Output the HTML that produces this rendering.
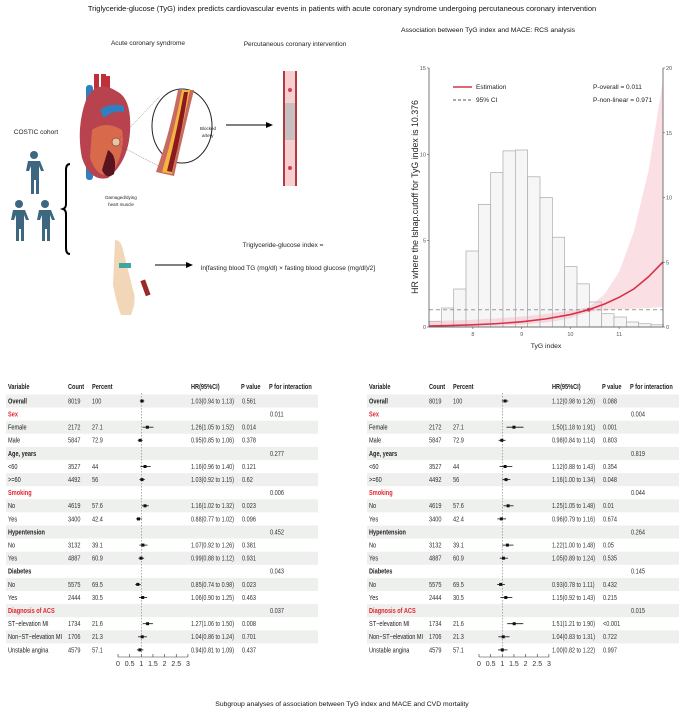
<!DOCTYPE html>
<html><head><meta charset="utf-8"><style>
html,body{margin:0;padding:0;background:#fff;}
svg{display:block;font-family:"Liberation Sans",Arial,sans-serif;}
</style></head><body>
<svg id="fig" width="685" height="712" viewBox="0 0 685 712">
<text x="342" y="11" font-size="7.5" text-anchor="middle" fill="#111">Triglyceride-glucose (TyG) index predicts cardiovascular events in patients with acute coronary syndrome undergoing percutaneous coronary intervention</text>

<g font-size="6.5" fill="#222">
<text x="148" y="45" text-anchor="middle">Acute coronary syndrome</text>
<text x="295" y="46" text-anchor="middle">Percutaneous coronary intervention</text>
<text x="36" y="134" text-anchor="middle">COSTIC cohort</text>
<g fill="#3d6680">
<circle cx="34" cy="155" r="4"/><path d="M28 161h12l4 10h-3l-2-5v28h-3v-14h-2v14h-3v-28l-2 5h-3z"/>
<circle cx="19" cy="204" r="4"/><path d="M13 210h12l4 10h-3l-2-5v26h-3v-12h-2v12h-3v-26l-2 5h-3z"/>
<circle cx="45" cy="204" r="4"/><path d="M39 210h12l4 10h-3l-2-5v26h-3v-12h-2v12h-3v-26l-2 5h-3z"/>
</g>
<path d="M70 164q-4 0-4 6v34q0 4-3 5q3 1 3 5v34q0 6 4 6" fill="none" stroke="#000" stroke-width="2"/>
<g>
<rect x="86" y="85" width="7" height="95" rx="3" fill="#2f7fc1"/>
<rect x="94" y="74" width="5" height="25" fill="#c0303a"/><rect x="101" y="74" width="5" height="22" fill="#c0303a"/><rect x="106" y="76" width="4" height="20" fill="#c0303a"/>
<path d="M86 100q10-22 32-8q14 8 12 40q-2 30-22 46q-18 4-26-20q-6-30 4-58z" fill="#b8434f"/>
<path d="M92 130q14-10 30 0q4 20-10 44q-14 6-22-16z" fill="#d8694a"/>
<path d="M108 150q10 6 6 24q-8 6-12-4z" fill="#5a1420"/>
<path d="M100 110q10-8 24-4l0 6q-12-2-20 6z" fill="#2f7fc1"/>
<circle cx="116" cy="142" r="4" fill="#f0c0a0" stroke="#333" stroke-width="0.5"/>
</g>
<text x="121" y="199" font-size="4.5" text-anchor="middle">Damaged/dying</text>
<text x="121" y="206" font-size="4.5" text-anchor="middle">heart muscle</text>
<line x1="120" y1="138" x2="160" y2="96" stroke="#555" stroke-width="0.5" stroke-dasharray="1,1"/>
<line x1="120" y1="146" x2="170" y2="172" stroke="#555" stroke-width="0.5" stroke-dasharray="1,1"/>
<g>
<ellipse cx="182" cy="126" rx="30" ry="37" fill="#fff" stroke="#222" stroke-width="1"/>
<path d="M178 90l16 0q-10 40-20 86l-18-4q14-40 22-82z" fill="#c86a60"/>
<path d="M182 90l8 0q-8 40-18 84l-10-2q12-40 20-82z" fill="#f3b53c"/>
<path d="M184 92l4 0q-6 40-16 80l-5-1q10-40 17-79z" fill="#8a1a22"/>
<text x="200" y="130" font-size="4.5">Blocked</text><text x="202" y="137" font-size="4.5">artery</text>
</g>
<line x1="226" y1="125" x2="266" y2="125" stroke="#000" stroke-width="1"/><path d="M266 122l7 3l-7 3z" fill="#000"/>
<g>
<rect x="283" y="71" width="14" height="115" fill="#f6d0d0"/>
<rect x="283" y="71" width="2" height="115" fill="#b33a40"/><rect x="295" y="71" width="2" height="115" fill="#b33a40"/>
<rect x="285" y="103" width="10" height="37" fill="#bbb" opacity="0.8"/>
<circle cx="290" cy="90" r="2" fill="#d04050"/><circle cx="290" cy="168" r="2" fill="#d04050"/>
</g>
<g>
<path d="M115 240q6 0 8 10l10 40q4 10 -2 25h-10q-4-10-8-30z" fill="#f2d6b8"/>
<rect x="119" y="263" width="12" height="5" fill="#3aa8a0"/>
<rect x="143" y="280" width="5" height="16" fill="#9a2a2a" transform="rotate(-20 145 288)"/>
</g>
<line x1="155" y1="265" x2="186" y2="265" stroke="#000" stroke-width="1"/><path d="M186 262l7 3l-7 3z" fill="#000"/>
<text x="283" y="247" text-anchor="middle">Triglyceride-glucose index =</text>
<text x="288" y="270" text-anchor="middle">ln[fasting blood TG (mg/dl) × fasting blood glucose (mg/dl)/2]</text>
</g>

<text x="488" y="32" font-size="6.8" text-anchor="middle" fill="#111">Association between TyG index and MACE: RCS analysis</text>
<g id="rcs"></g>

<g id="forestL"></g>
<g id="forestR"></g>
<text x="342" y="706" font-size="6.8" text-anchor="middle" fill="#111">Subgroup analyses of association between TyG index and MACE and CVD mortality</text>
</svg>
<script>
var NS='http://www.w3.org/2000/svg';
function mk(parent,tag,attrs,text){var e=document.createElementNS(NS,tag);for(var k in attrs)e.setAttribute(k,attrs[k]);if(text!==undefined)e.textContent=text;parent.appendChild(e);return e;}
// condensed text helper
function ct(parent,x,y,str,attrs,sc){var a={x:0,y:0,transform:'translate('+x+','+y+') scale('+(sc||0.84)+',1)'};for(var k in attrs)a[k]=attrs[k];return mk(parent,'text',a,str);}

var histStart=7.1, binWidth=0.253;
var histCounts=[0.33,1.1,2.2,4.4,7.1,8.95,10.2,10.25,8.7,7.5,5.2,3.5,2.5,1.45,0.77,0.58,0.29,0.19,0.13];
var curveX=[7.1,7.5,8,8.5,9,9.5,10,10.376,10.7,11,11.3,11.6,11.9];
var curveEst=[0.058,0.082,0.126,0.195,0.30,0.47,0.72,1.0,1.33,1.72,2.2,2.9,3.77];
var curveHi=[0.35,0.38,0.42,0.5,0.6,0.75,0.95,1.15,1.9,3.2,5.5,9,14.3];
var curveLo=[0.01,0.02,0.04,0.08,0.14,0.25,0.5,0.88,0.97,1.02,1.06,1.1,1.15];
var xTicks=[8,9,10,11];
var yTicksL=[0,5,10,15];
var yTicksR=[0,5,10,15,20];

(function(){
 var g=document.getElementById('rcs');
 var X0=429,X1=663,Y0=327,Y1=68,xmin=7.1,xmax=11.9;
 function sx(v){return X0+(v-xmin)/(xmax-xmin)*(X1-X0);}
 function sy(v){return Y0-v/15*(Y0-Y1);}
 function syR(v){return Y0-v/20*(Y0-Y1);}
 for(var i=0;i<histCounts.length;i++){
  var a=histStart+i*binWidth;
  var r=mk(g,'rect',{x:sx(a),y:sy(histCounts[i]),width:sx(a+binWidth)-sx(a),height:Y0-sy(histCounts[i]),fill:'#f6f6f7',stroke:'#aaa','stroke-width':0.7});
  
  
 }
 var d='';
 for(i=0;i<curveX.length;i++)d+=(i?'L':'M')+sx(curveX[i])+' '+sy(curveHi[i]);
 for(i=curveX.length-1;i>=0;i--)d+='L'+sx(curveX[i])+' '+sy(curveLo[i]);
 var band=mk(g,'path',{d:d+'Z',fill:'#f2a7b3','fill-opacity':0.35});
 
 
 var ref=mk(g,'line',{x1:X0,x2:X1,y1:sy(1),y2:sy(1),stroke:'#999','stroke-width':1,'stroke-dasharray':'4,3'});
 
 
 d='';
 for(i=0;i<curveX.length;i++)d+=(i?'L':'M')+sx(curveX[i])+' '+sy(curveEst[i]);
 var ln=mk(g,'path',{d:d,fill:'none',stroke:'#d9304a','stroke-width':1.6});
 
 
 var cut=mk(g,'circle',{cx:sx(10.376),cy:sy(1),r:1.8,fill:'#d9304a'});
 
 
 mk(g,'line',{x1:X0,x2:X0,y1:Y1,y2:Y0,stroke:'#555','stroke-width':0.8});
 mk(g,'line',{x1:X1,x2:X1,y1:Y1,y2:Y0,stroke:'#555','stroke-width':0.8});
 mk(g,'line',{x1:X0,x2:X1,y1:Y0,y2:Y0,stroke:'#555','stroke-width':0.8});
 yTicksL.forEach(function(t){mk(g,'line',{x1:X0-2,x2:X0,y1:sy(t),y2:sy(t),stroke:'#555','stroke-width':0.6});
  var tx=mk(g,'text',{x:X0-3,y:sy(t)+2,'font-size':5.5,'text-anchor':'end',fill:'#555'},t);
  });
 yTicksR.forEach(function(t){mk(g,'line',{x1:X1,x2:X1+2,y1:syR(t),y2:syR(t),stroke:'#555','stroke-width':0.6});
  var tx=mk(g,'text',{x:X1+3,y:syR(t)+2,'font-size':5.5,fill:'#555'},t);
  });
 xTicks.forEach(function(t){mk(g,'line',{x1:sx(t),x2:sx(t),y1:Y0,y2:Y0+2,stroke:'#555','stroke-width':0.6});
  var tx=mk(g,'text',{x:sx(t),y:Y0+9,'font-size':5.5,'text-anchor':'middle',fill:'#555'},t);
  });
 var xl=mk(g,'text',{x:546,y:348,'font-size':6.8,'text-anchor':'middle',fill:'#222'},'TyG index');
 
 var yl=mk(g,'text',{x:0,y:0,'font-size':8.8,'text-anchor':'middle',fill:'#222',transform:'translate(418,197) rotate(-90)'},'HR where the lshap.cutoff for TyG index is 10.376');
 
 mk(g,'line',{x1:453,x2:472,y1:87,y2:87,stroke:'#d9304a','stroke-width':1.5});
 var l1=mk(g,'text',{x:476,y:89,'font-size':6.5,fill:'#222'},'Estimation');
 
 mk(g,'line',{x1:453,x2:472,y1:100,y2:100,stroke:'#555','stroke-width':1,'stroke-dasharray':'3,2'});
 var l2=mk(g,'text',{x:476,y:102,'font-size':6.5,fill:'#222'},'95% CI');
 
 var p1=mk(g,'text',{x:593,y:89,'font-size':6.5,fill:'#222'},'P-overall = 0.011');
 
 var p2=mk(g,'text',{x:593,y:102,'font-size':6.5,fill:'#222'},'P-non-linear = 0.971');
 
})();

var rowLabels=['Overall','Sex','Female','Male','Age, years','<60','>=60','Smoking','No','Yes','Hypentension','No','Yes','Diabetes','No','Yes','Diagnosis of ACS','ST\u2212elevation MI','Non\u2212ST\u2212elevation MI','Unstable angina'];
var rowType=['h','r','s','s','h','s','s','r','s','s','h','s','s','h','s','s','r','s','s','s'];
var counts=['8019','','2172','5847','','3527','4492','','4619','3400','','3132','4887','','5575','2444','','1734','1706','4579'];
var percents=['100','','27.1','72.9','','44','56','','57.6','42.4','','39.1','60.9','','69.5','30.5','','21.6','21.3','57.1'];
var hrL=[1.03,null,1.26,0.95,null,1.16,1.03,null,1.16,0.88,null,1.07,0.99,null,0.85,1.06,null,1.27,1.04,0.94];
var loL=[0.94,null,1.05,0.85,null,0.96,0.92,null,1.02,0.77,null,0.92,0.88,null,0.74,0.90,null,1.06,0.86,0.81];
var hiL=[1.13,null,1.52,1.06,null,1.40,1.15,null,1.32,1.02,null,1.26,1.12,null,0.98,1.25,null,1.50,1.24,1.09];
var pL=['0.561','','0.014','0.378','','0.121','0.62','','0.023','0.096','','0.381','0.931','','0.023','0.463','','0.008','0.701','0.437'];
var pintL=['','0.011','','','0.277','','','0.006','','','0.452','','','0.043','','','0.037','','',''];
var hrR=[1.12,null,1.50,0.98,null,1.12,1.16,null,1.25,0.96,null,1.22,1.05,null,0.93,1.15,null,1.51,1.04,1.00];
var loR=[0.98,null,1.18,0.84,null,0.88,1.00,null,1.05,0.79,null,1.00,0.89,null,0.78,0.92,null,1.21,0.83,0.82];
var hiR=[1.26,null,1.91,1.14,null,1.43,1.34,null,1.48,1.16,null,1.48,1.24,null,1.11,1.43,null,1.90,1.31,1.22];
var pR=['0.088','','0.001','0.803','','0.354','0.048','','0.01','0.674','','0.05','0.535','','0.432','0.215','','<0.001','0.722','0.997'];
var pintR=['','0.004','','','0.819','','','0.044','','','0.264','','','0.145','','','0.015','','',''];
var axisTicks=[0,0.5,1,1.5,2,2.5,3];

function fmt(v){return v.toFixed(2);}
function forest(id,ox,hr,lo,hi,pv,pint){
 var g=document.getElementById(id);
 var rowY0=401,rowH=13.1,fs=7;
 function sx(v){return ox+118+v*23.3;}
 var hdr=[['Variable',8],['Count',68],['Percent',92],['HR(95%CI)',191],['P value',241],['P for interaction',269]];
 hdr.forEach(function(h){var t=ct(g,ox+h[1],389,h[0],{'font-size':fs,'font-weight':'bold',fill:'#222'},0.8);
  });
 for(var i=0;i<rowLabels.length;i++){
  var y=rowY0+i*rowH;
  if(i%2===0)mk(g,'rect',{x:ox+6,y:y-6.5,width:312,height:rowH,fill:'#eef0ee'});
 }
 var dl=mk(g,'line',{x1:sx(1),x2:sx(1),y1:393,y2:654,stroke:'#777','stroke-width':0.6,'stroke-dasharray':'1.5,1.5'});
 
 for(i=0;i<rowLabels.length;i++){
  y=rowY0+i*rowH;var ty=y+2.4;
  var col=rowType[i]==='r'?'#e0262c':'#222';
  var lab=ct(g,ox+8,ty,rowLabels[i],{'font-size':fs,fill:col,'font-weight':rowType[i]==='s'?'normal':'bold'},0.8);
  
  if(counts[i]){ct(g,ox+68,ty,counts[i],{'font-size':fs,fill:'#333'},0.8);ct(g,ox+92,ty,percents[i],{'font-size':fs,fill:'#333'},0.8);}
  if(hr[i]!==null){
   var ci=mk(g,'line',{x1:sx(lo[i]),x2:sx(hi[i]),y1:y,y2:y,stroke:'#111','stroke-width':0.8});
   
   var pt=mk(g,'rect',{x:sx(hr[i])-1.5,y:y-1.5,width:3,height:3,fill:'#111'});
   
   ct(g,ox+191,ty,fmt(hr[i])+'('+fmt(lo[i])+' to '+fmt(hi[i])+')',{'font-size':fs,fill:'#333'},0.78);
   ct(g,ox+242,ty,pv[i],{'font-size':fs,fill:'#333'},0.8);
  }
  if(pint[i])ct(g,ox+270,ty,pint[i],{'font-size':fs,fill:'#333'},0.8);
 }
 var ay=657;
 mk(g,'line',{x1:sx(0),x2:sx(3),y1:ay,y2:ay,stroke:'#333','stroke-width':0.6});
 axisTicks.forEach(function(t){mk(g,'line',{x1:sx(t),x2:sx(t),y1:ay-3,y2:ay,stroke:'#333','stroke-width':0.6});
  var tx=mk(g,'text',{x:sx(t),y:ay+9,'font-size':fs,'text-anchor':'middle',fill:'#333'},t);
  });
}
forest('forestL',0,hrL,loL,hiL,pL,pintL);
forest('forestR',361,hrR,loR,hiR,pR,pintR);
</script>
</body></html>
